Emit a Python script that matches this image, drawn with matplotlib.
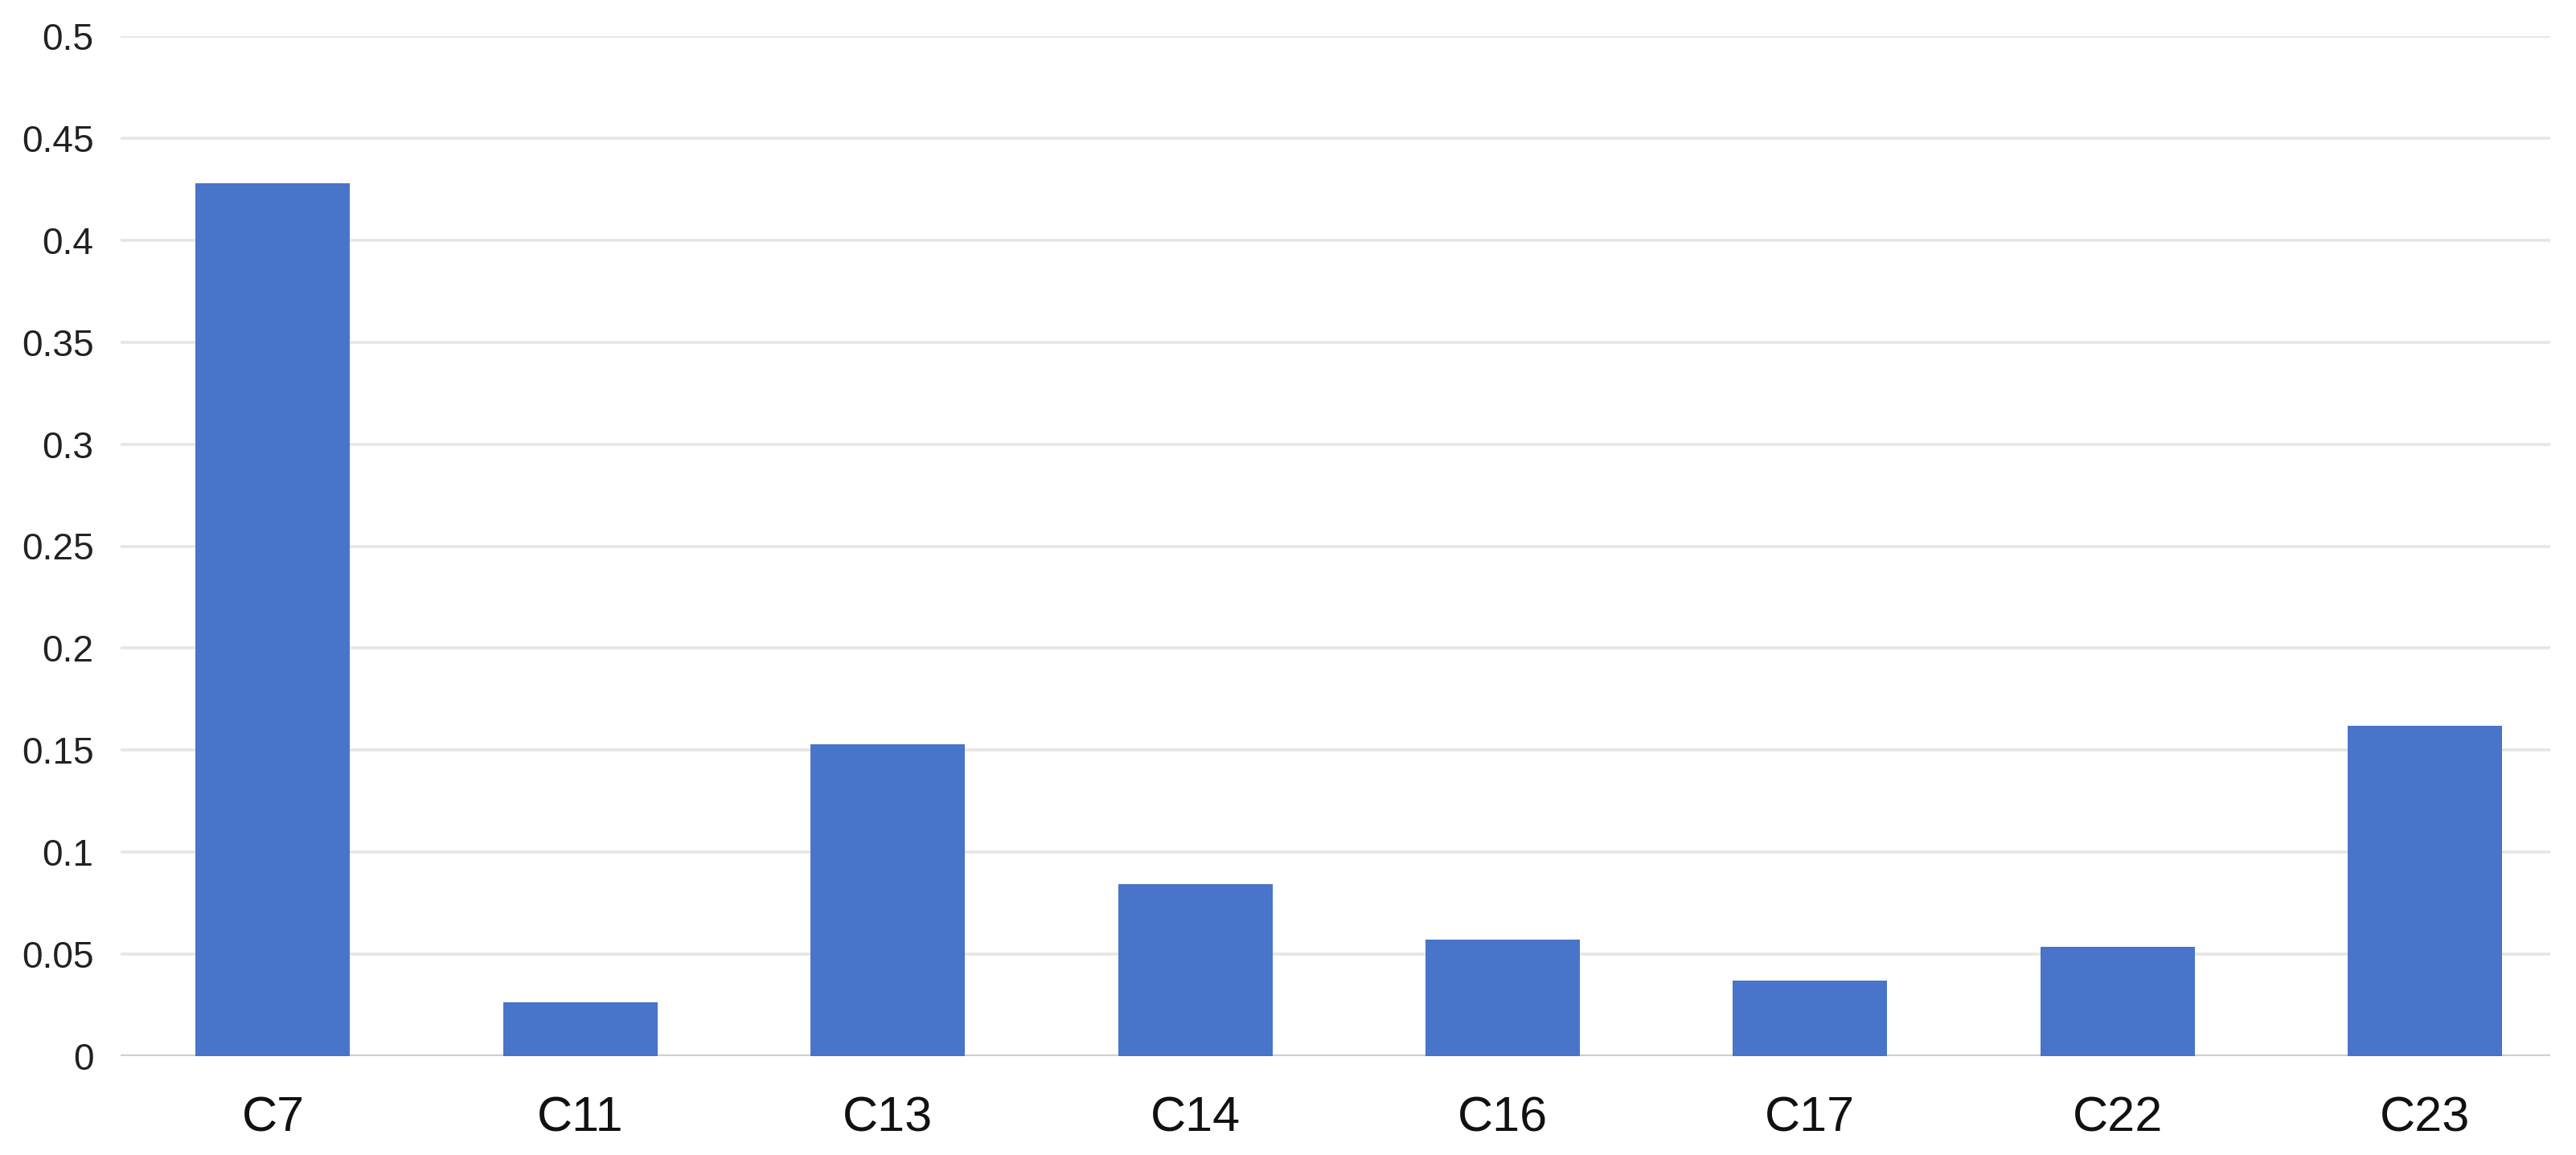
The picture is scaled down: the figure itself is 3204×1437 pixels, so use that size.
import numpy as np
import matplotlib
matplotlib.use('Agg')
import matplotlib.pyplot as plt

# values
categories = ['C7', 'C11', 'C13', 'C14', 'C16', 'C17', 'C22', 'C23']
values = [0.428, 0.0265, 0.1528, 0.0842, 0.0570, 0.0370, 0.0535, 0.162]
yticks = [0, 0.05, 0.1, 0.15, 0.2, 0.25, 0.3, 0.35, 0.4, 0.45, 0.5]
ytick_labels = ['0', '0.05', '0.1', '0.15', '0.2', '0.25', '0.3', '0.35', '0.4', '0.45', '0.5']

plt.rcParams['font.family'] = ['Liberation Sans', 'DejaVu Sans']

fig = plt.figure(figsize=(16.02, 7.185), dpi=200)
# plot area: 150..3172 px wide, 45..1314 px tall
ax = fig.add_axes([150 / 3204, 1 - 1314 / 1437, (3172 - 150) / 3204, (1314 - 45) / 1437])

x = np.arange(len(categories))
ax.bar(x, values, width=0.502, color='#4874c9', zorder=3)

ax.set_xlim(-0.4955, 7.408)
ax.set_ylim(0, 0.5)
ax.set_yticks(yticks)
ax.set_yticklabels(ytick_labels, fontsize=16.6, color='#222222')
ax.set_xticks(x)
ax.set_xticklabels(categories, fontsize=22, color='#111111')

ax.grid(axis='y', color='#e6e6e6', lw=1.3, zorder=0)
ax.axhline(0, color='#cfcfcf', lw=1.6, zorder=2)
for s in ax.spines.values():
    s.set_visible(False)
ax.tick_params(axis='both', length=0)
ax.tick_params(axis='y', pad=12)
ax.tick_params(axis='x', pad=18)

fig.savefig('out.png', dpi=200, facecolor='white')
